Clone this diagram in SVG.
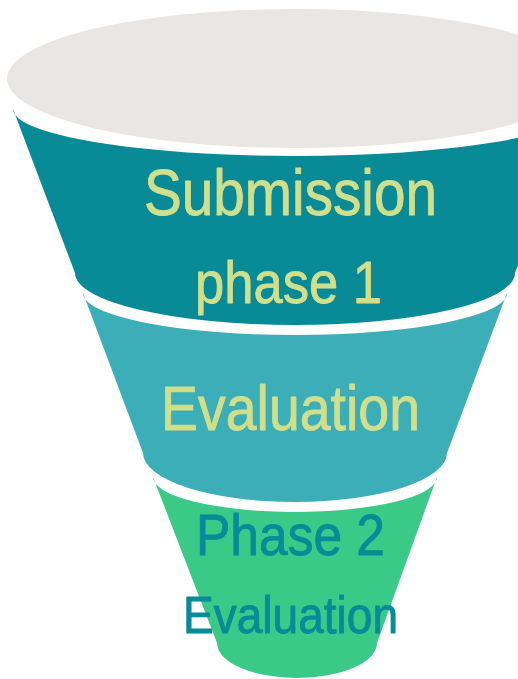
<svg xmlns="http://www.w3.org/2000/svg" width="518" height="679" viewBox="0 0 518 679">
  <style>
    .lbl { font-family: "Liberation Sans Narrow", "Liberation Sans", Arial, sans-serif; text-anchor: start; stroke-width: 0.9; stroke-linejoin: round; }
    .light { fill: #CFDF8C; stroke: #CFDF8C; }
    .dark { fill: #088B99; stroke: #088B99; }
  </style>
  <rect x="0" y="0" width="518" height="679" fill="#FFFFFF"/>
  <g id="top">
    <ellipse cx="295" cy="78.5" rx="288" ry="69.5" fill="#E9E6E3"/>
  </g>
  <g id="submission">
    <path d="M13,109 A282,47 0 0 0 577,109 L515,273 A220,52 0 0 1 75,273 Z" fill="#088A97"/>
    <text class="lbl light" x="144" y="215" font-size="65" textLength="293" lengthAdjust="spacingAndGlyphs">Submission</text>
    <text class="lbl light" x="195" y="303" font-size="60" textLength="187" lengthAdjust="spacingAndGlyphs">phase 1</text>
  </g>
  <g id="evaluation">
    <path d="M83,293 A212,42 0 0 0 507,293 L447,453 A152,49 0 0 1 143,453 Z" fill="#3CAEB8"/>
    <text class="lbl light" x="161" y="430" font-size="63" textLength="259" lengthAdjust="spacingAndGlyphs">Evaluation</text>
  </g>
  <g id="phase2">
    <path d="M153,477 A142,35 0 0 0 437,477 L377,643 A80,35 0 0 1 217,643 Z" fill="#3AC987"/>
    <text class="lbl dark" x="196" y="555" font-size="58" textLength="189" lengthAdjust="spacingAndGlyphs">Phase 2</text>
    <text class="lbl dark" x="183" y="633" font-size="52" textLength="215" lengthAdjust="spacingAndGlyphs">Evaluation</text>
  </g>
  <g id="connectors"></g>
</svg>
